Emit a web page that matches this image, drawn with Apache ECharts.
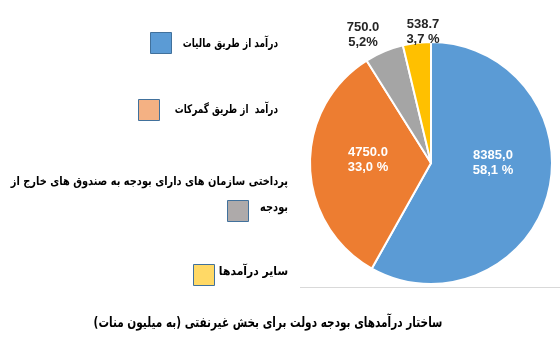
<!DOCTYPE html>
<html>
<head>
<meta charset="utf-8">
<script src="https://cdn.jsdelivr.net/npm/echarts@6/dist/echarts.min.js"></script>
<style>
html,body{margin:0;padding:0;background:#fff;}
#c{width:560px;height:341px;}
</style>
</head>
<body>
<div id="c"></div>
<script>
// ---- data ----
var categories = [
  'درآمد از طریق مالیات',
  'درآمد  از طریق گمرکات',
  'پرداختی سازمان های دارای بودجه به صندوق های خارج از\nبودجه',
  'سایر درآمدها'
];
var values = [8385.0, 4750.0, 750.0, 538.7];
var valueLabels = ['8385,0', '4750.0', '750.0', '538.7'];
var percentLabels = ['58,1 %', '33,0 %', '5,2%', '3,7 %'];
var title = 'ساختار درآمدهای بودجه دولت برای بخش غیرنفتی (به میلیون منات)';

// ---- styles ----
var sliceColors = ['#5B9BD5', '#ED7D31', '#A5A5A5', '#FFC000'];
var legendColors = ['#5B9BD5', '#F4B183', '#AEAAAA', '#FFD966'];
var labelColors = ['#fff', '#fff', '#262626', '#262626'];
var labelPos = [[493, 163], [368, 160], [363, 35], [423, 32]];
var legendBoxes = [[150, 32], [138, 99], [227, 200], [193, 264]];
var legendTextRight = [278, 278, 288, 288];
var legendTextY = [44, 110, 182, 272];
var legendScale = [[0.75], [0.74], [0.82, 0.82], [0.9]];
var persianFont = '"DejaVu Sans", "Noto Sans", sans-serif';

var chart = echarts.init(document.getElementById('c'), null, {renderer: 'canvas'});

var graphics = [];
for (var i = 0; i < categories.length; i++) {
  graphics.push({
    type: 'rect',
    shape: {x: legendBoxes[i][0] + 0.5, y: legendBoxes[i][1] + 0.5, width: 21, height: 21},
    style: {fill: legendColors[i], stroke: '#41719C', lineWidth: 1}
  });
  var lines = categories[i].split('\n');
  for (var k = 0; k < lines.length; k++) {
    graphics.push({
      type: 'text',
      x: legendTextRight[i],
      y: (k === 0 ? legendTextY[i] : legendBoxes[i][1] + 8),
      scaleX: legendScale[i][k],
      style: {
        text: '\u200F' + lines[k] + '\u200F',
        font: 'bold 12px ' + persianFont,
        fill: '#000',
        textAlign: 'right',
        textVerticalAlign: 'middle'
      }
    });
  }
}
graphics.push({
  type: 'text',
  x: 268, y: 323,
  scaleX: 0.75,
  style: {
    text: '\u200F' + title + '\u200F',
    font: 'bold 14px ' + persianFont,
    fill: '#000',
    textAlign: 'center',
    textVerticalAlign: 'middle'
  }
});
graphics.push({
  type: 'line',
  shape: {x1: 300, y1: 287.5, x2: 560, y2: 287.5},
  style: {stroke: '#D9D9D9', lineWidth: 1}
});

var seriesData = values.map(function (v, i) {
  return {
    name: categories[i],
    value: v,
    itemStyle: {color: sliceColors[i]},
    label: {
      show: true,
      position: i < 2 ? 'inside' : 'outside',
      color: labelColors[i],
      formatter: valueLabels[i] + '\n' + percentLabels[i]
    },
    labelLine: {show: false}
  };
});

chart.setOption({
  animation: false,
  backgroundColor: '#fff',
  graphic: graphics,
  series: [{
    type: 'pie',
    center: [431, 163],
    radius: [0, 121],
    startAngle: 90,
    clockwise: true,
    avoidLabelOverlap: false,
    itemStyle: {borderColor: '#fff', borderWidth: 2},
    label: {
      fontFamily: 'Liberation Sans, Arial, sans-serif',
      fontWeight: 'bold',
      fontSize: 13,
      lineHeight: 15,
      align: 'center'
    },
    labelLayout: function (p) {
      return {x: labelPos[p.dataIndex][0], y: labelPos[p.dataIndex][1], align: 'center', verticalAlign: 'middle'};
    },
    data: seriesData
  }]
});
</script>
</body>
</html>
